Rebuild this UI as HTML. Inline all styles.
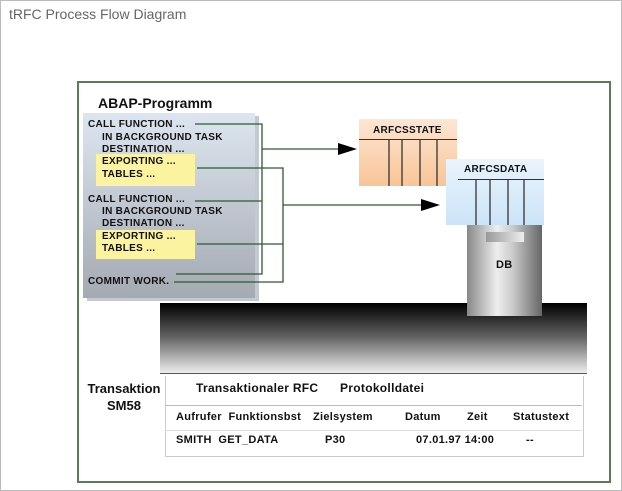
<!DOCTYPE html>
<html><head><style>
body{margin:0;width:622px;height:491px;background:#fff;font-family:"Liberation Sans",sans-serif;overflow:hidden;position:relative}
.a{position:absolute}
.t{font-weight:bold;font-size:10px;color:#111;white-space:nowrap;letter-spacing:0.3px}
</style></head><body>
<div class="a" style="left:0;top:0;width:620px;height:489px;border:1px solid #bbb"></div>
<div class="a" style="left:9px;top:6px;font-size:14px;color:#666">tRFC Process Flow Diagram</div>
<div class="a" style="left:77px;top:81px;width:530px;height:398px;border:2px solid #5a7a5a"></div>
<div class="a" style="left:98px;top:95px;font-size:14px;font-weight:bold;color:#111">ABAP-Programm</div>
<div class="a" style="left:87px;top:116px;width:172px;height:185px;background:#c4c8d0"></div>
<div class="a" style="left:83px;top:113px;width:172px;height:185px;background:linear-gradient(#dde6f0,#a4a9b2)"></div>
<div class="a" style="left:96px;top:154px;width:99px;height:32px;background:#fbf3a0"></div>
<div class="a" style="left:96px;top:230px;width:99px;height:29px;background:#fbf3a0"></div>
<div class="a t" style="left:88px;top:119px">CALL FUNCTION ...</div>
<div class="a t" style="left:102px;top:132px">IN BACKGROUND TASK</div>
<div class="a t" style="left:102px;top:144px">DESTINATION ...</div>
<div class="a t" style="left:102px;top:156px">EXPORTING ...</div>
<div class="a t" style="left:102px;top:169px">TABLES ...</div>
<div class="a t" style="left:88px;top:194px">CALL FUNCTION ...</div>
<div class="a t" style="left:102px;top:206px">IN BACKGROUND TASK</div>
<div class="a t" style="left:102px;top:218px">DESTINATION ...</div>
<div class="a t" style="left:102px;top:231px">EXPORTING ...</div>
<div class="a t" style="left:102px;top:243px">TABLES ...</div>
<div class="a t" style="left:88px;top:276px">COMMIT WORK.</div>
<div class="a" style="left:359px;top:119px;width:98px;height:67px;background:linear-gradient(#fde6d4,#f9c497)"></div>
<div class="a" style="left:359px;top:139px;width:98px;height:1px;background:#333"></div>
<div class="a t" style="left:373px;top:125px">ARFCSSTATE</div>
<div class="a" style="left:446px;top:159px;width:98px;height:66px;background:linear-gradient(#eaf4fc,#cbe4f8)"></div>
<div class="a" style="left:458px;top:179px;width:86px;height:1px;background:#333"></div>
<div class="a t" style="left:464px;top:164px">ARFCSDATA</div>
<div class="a" style="left:467px;top:225px;width:75px;height:91px;background:linear-gradient(90deg,#888,#eee 40%,#ccc 60%,#666)"></div>
<div class="a" style="left:486px;top:232px;width:38px;height:10px;background:linear-gradient(90deg,#999,#eee)"></div>
<div class="a t" style="left:496px;top:259px;font-size:11px">DB</div>
<div class="a" style="left:160px;top:303px;width:427px;height:70px;background:linear-gradient(#000,#666 50%,#eee);border-bottom:1px solid #3050e0"></div>
<div class="a" style="left:467px;top:300px;width:75px;height:16px;background:linear-gradient(90deg,#888,#eee 40%,#ccc 60%,#666)"></div>
<svg class="a" style="left:0;top:0" width="622" height="491">
<g stroke="#333" stroke-width="1.3">
<line x1="389" y1="139" x2="389" y2="186"/><line x1="402" y1="139" x2="402" y2="186"/><line x1="420" y1="139" x2="420" y2="186"/><line x1="437" y1="139" x2="437" y2="186"/>
<line x1="476" y1="179" x2="476" y2="225"/><line x1="490" y1="179" x2="490" y2="225"/><line x1="508" y1="179" x2="508" y2="225"/><line x1="524" y1="179" x2="524" y2="225"/>
</g>
<g stroke="#2d5a2d" stroke-width="1.3" fill="none">
<polyline points="195,124 262,124 262,274 176,274"/>
<line x1="195" y1="201" x2="262" y2="201"/>
<line x1="262" y1="149" x2="340" y2="149"/>
<polyline points="197,168 283,168 283,282 174,282"/>
<line x1="197" y1="244" x2="283" y2="244"/>
<line x1="283" y1="205" x2="424" y2="205"/>
</g>
<polygon points="338,143 357,149 338,155" fill="#000"/>
<polygon points="421,199 440,205 421,211" fill="#000"/>
</svg>
<div class="a" style="left:84px;top:380px;width:80px;text-align:center;font-weight:bold;font-size:13px;line-height:17px;color:#111">Transaktion<br>SM58</div>
<div class="a" style="left:165px;top:376px;width:417px;height:80px;border:1px solid #ccc;border-top:none"></div>
<div class="a" style="left:165px;top:405px;width:417px;height:1px;background:#bbb"></div>
<div class="a" style="left:165px;top:430px;width:417px;height:1px;background:#ddd"></div>
<div class="a t" style="left:196px;top:381px;font-size:12px">Transaktionaler RFC</div>
<div class="a t" style="left:340px;top:381px;font-size:12px">Protokolldatei</div>
<div class="a t" style="left:176px;top:411px;font-size:11px">Aufrufer&nbsp; Funktionsbst</div>
<div class="a t" style="left:313px;top:411px;font-size:11px">Zielsystem</div>
<div class="a t" style="left:405px;top:411px;font-size:11px">Datum</div>
<div class="a t" style="left:467px;top:411px;font-size:11px">Zeit</div>
<div class="a t" style="left:513px;top:411px;font-size:11px">Statustext</div>
<div class="a t" style="left:176px;top:434px;font-size:11px">SMITH&nbsp; GET_DATA</div>
<div class="a t" style="left:325px;top:434px;font-size:11px">P30</div>
<div class="a t" style="left:416px;top:434px;font-size:11px">07.01.97 14:00</div>
<div class="a t" style="left:526px;top:434px;font-size:11px">--</div>
</body></html>
